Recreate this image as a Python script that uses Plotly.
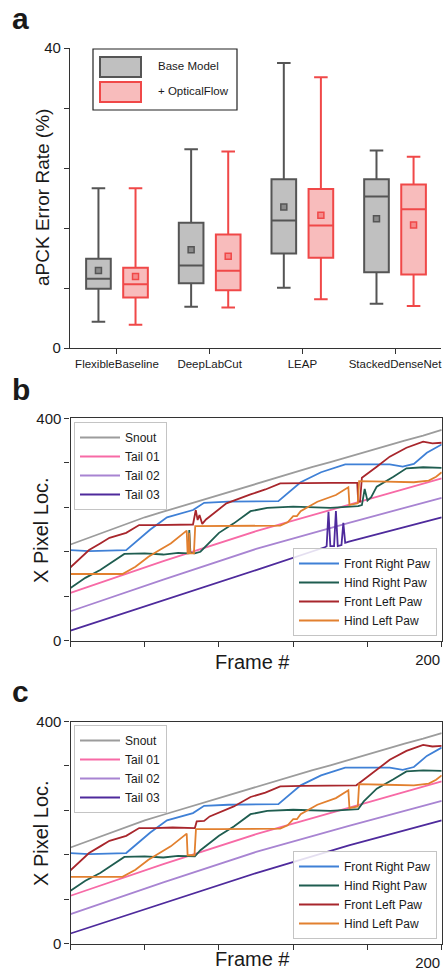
import plotly.graph_objects as go

FONT = "Liberation Sans, Arial, Helvetica, sans-serif"
TXT = "#1a1a1a"
AX = "#333333"
W, H = 443, 973

# ---------------- Panel a data ----------------
categories = ["FlexibleBaseline", "DeepLabCut", "LEAP", "StackedDenseNet"]
base_lower = [3.5, 5.5, 8.05, 5.9]
base_q1 = [7.9, 8.65, 12.6, 10.1]
base_median = [9.25, 11.0, 17.0, 20.2]
base_q3 = [11.9, 16.7, 22.5, 22.5]
base_upper = [21.3, 26.5, 38.0, 26.35]
base_mean = [10.35, 13.1, 18.8, 17.25]

of_lower = [3.1, 5.4, 6.5, 5.6]
of_q1 = [6.75, 7.7, 12.05, 9.8]
of_median = [8.5, 10.3, 16.35, 18.5]
of_q3 = [10.7, 15.15, 21.2, 21.8]
of_upper = [21.3, 26.2, 36.1, 25.5]
of_mean = [9.55, 12.25, 17.7, 16.4]

a_ticks = [0, 8, 16, 24, 32, 40]
a_ticktext = ["0", "", "", "", "", "40"]

# ---------------- Panels b / c data ----------------
xy_xticks = [0, 40, 80, 120, 160, 200]
xy_xticktext = ["", "", "", "", "", "200"]
xy_yticks = [0, 80, 160, 240, 320, 400]
xy_yticktext = ["0", "", "", "", "", "400"]

snout_f = [0, 10, 20, 30, 40, 50, 60, 70, 80, 90, 100, 110, 120, 130, 140, 150, 160, 170, 180, 190, 200]
snout_v = [173, 185, 198, 210, 222, 232, 242, 252, 262, 272, 283, 293, 302, 312, 321, 331, 340, 350, 360, 369, 379]

tail01_f = [0, 50, 100, 150, 200]
tail01_v = [86, 143, 197, 245, 292]

tail02_f = [0, 50, 100, 150, 200]
tail02_v = [53, 110, 165, 212, 257]

tail03_b_f = [0, 50, 100, 137, 138, 139, 140, 142, 143, 144, 146, 147, 148, 150, 200]
tail03_b_v = [18, 72, 127, 168, 170, 232, 170, 170, 233, 170, 172, 212, 176, 178, 222]
tail03_c_f = [0, 50, 100, 150, 200]
tail03_c_v = [18, 72, 127, 177, 222]

frp_f = [0, 10, 20, 30, 43, 52, 66, 72, 85, 100, 112, 124, 135, 148, 160, 172, 179, 185, 192, 200]
frp_v = [163, 161, 162, 163, 200, 222, 235, 248, 250, 250, 251, 285, 303, 317, 317, 317, 313, 318, 338, 353]

hrp_b_f = [0, 8, 16, 24, 29, 40, 50, 58, 63.5, 64, 64.6, 67, 70, 80, 88, 97, 106, 120, 140, 155, 157, 158.5, 160, 162, 165, 174, 181, 190, 200]
hrp_b_v = [95, 113, 127, 145, 156, 157, 155, 158, 157, 199, 158, 157, 160, 194, 211, 233, 239, 241, 239, 242, 244, 273, 252, 258, 277, 295, 310, 312, 311]
hrp_c_f = [0, 8, 16, 24, 29, 40, 50, 58, 67, 70, 80, 88, 97, 106, 120, 140, 155, 158, 165, 174, 181, 190, 200]
hrp_c_v = [95, 113, 127, 145, 156, 157, 155, 158, 157, 168, 194, 211, 233, 239, 241, 239, 242, 256, 279, 296, 310, 312, 311]

flp_b_f = [0, 5, 10, 16, 21, 30, 37, 45, 55, 66, 67.5, 68.5, 69.5, 71, 73, 84, 97, 105, 113, 125, 140, 154.5, 155, 156, 157, 165, 172, 181, 190, 195, 200]
flp_b_v = [132, 148, 163, 175, 185, 194, 208, 208, 209, 209, 235, 217, 226, 210, 218, 247, 263, 272, 283, 284, 284, 284, 250, 250, 293, 313, 331, 347, 358, 355, 356]
flp_c_f = [0, 5, 10, 16, 21, 30, 37, 45, 55, 67, 68, 72, 75, 88, 97, 105, 113, 125, 140, 154, 156, 165, 172, 181, 190, 195, 200]
flp_c_v = [132, 148, 163, 175, 185, 194, 208, 208, 209, 208, 220, 221, 229, 247, 264, 272, 283, 284, 284, 285, 290, 313, 331, 347, 358, 355, 356]

hlp_b_f = [0, 28, 35, 42, 48, 54, 62.6, 63.1, 63.6, 64, 64.4, 66.5, 67.2, 80, 97, 113, 117, 120, 122, 124, 133, 143, 149.7, 150.3, 154.8, 155.5, 170, 185, 193, 197, 200]
hlp_b_v = [120, 120, 133, 151, 163, 175, 198, 157, 157, 194, 157, 157, 206, 206, 206, 207, 213, 224, 224, 233, 250, 262, 276, 244, 247, 287, 286, 285, 288, 295, 303]
hlp_c_f = [0, 28, 35, 42, 48, 54, 62.6, 63.1, 66.8, 67.6, 80, 97, 113, 117, 120, 122, 124, 133, 143, 149.7, 150.3, 154.8, 155.5, 170, 185, 193, 197, 200]
hlp_c_v = [120, 120, 133, 151, 163, 175, 198, 159, 159, 206, 206, 206, 207, 213, 224, 224, 233, 250, 262, 276, 244, 247, 287, 286, 285, 288, 295, 303]

# ---------------- Styles ----------------
BASE_LINE, BASE_FILL = "#555555", "#c0c0c0"
OF_LINE, OF_FILL = "#f04848", "#f8bcbc"
C_SNOUT = "#9c9c9c"
C_T1 = "#f76aa6"
C_T2 = "#a884d2"
C_T3 = "#4e2a9c"
C_FRP = "#3f80d6"
C_HRP = "#1f5d50"
C_FLP = "#a8262c"
C_HLP = "#e2802f"

fig = go.Figure()

# ---------------- Panel a ----------------
offset = 0.2
base_x = [i - offset for i in range(len(categories))]
of_x = [i + offset for i in range(len(categories))]

fig.add_trace(go.Box(
    x=base_x, q1=base_q1, median=base_median, q3=base_q3,
    lowerfence=base_lower, upperfence=base_upper,
    width=0.266, whiskerwidth=0.55, fillcolor=BASE_FILL,
    line=dict(color=BASE_LINE, width=2), boxpoints=False,
    name="Base Model", showlegend=False, xaxis="x", yaxis="y", hoverinfo="skip"))
fig.add_trace(go.Box(
    x=of_x, q1=of_q1, median=of_median, q3=of_q3,
    lowerfence=of_lower, upperfence=of_upper,
    width=0.266, whiskerwidth=0.55, fillcolor=OF_FILL,
    line=dict(color=OF_LINE, width=2), boxpoints=False,
    name="+ OpticalFlow", showlegend=False, xaxis="x", yaxis="y", hoverinfo="skip"))
fig.add_trace(go.Scatter(
    x=base_x, y=base_mean, mode="markers", showlegend=False,
    marker=dict(symbol="square", size=6, color="#8a8a8a", line=dict(color=BASE_LINE, width=1.5)),
    xaxis="x", yaxis="y"))
fig.add_trace(go.Scatter(
    x=of_x, y=of_mean, mode="markers", showlegend=False,
    marker=dict(symbol="square", size=6, color="#f58a8a", line=dict(color=OF_LINE, width=1.5)),
    xaxis="x", yaxis="y"))


def add_line(f, v, name, color, xa, ya, legend):
    fig.add_trace(go.Scatter(
        x=f, y=v, mode="lines", name=name,
        line=dict(color=color, width=1.8),
        xaxis=xa, yaxis=ya, legend=legend))


# ---------------- Panel b ----------------
add_line(snout_f, snout_v, "Snout", C_SNOUT, "x2", "y2", "legend")
add_line(tail01_f, tail01_v, "Tail 01", C_T1, "x2", "y2", "legend")
add_line(tail02_f, tail02_v, "Tail 02", C_T2, "x2", "y2", "legend")
add_line(tail03_b_f, tail03_b_v, "Tail 03", C_T3, "x2", "y2", "legend")
add_line(frp_f, frp_v, "Front Right Paw", C_FRP, "x2", "y2", "legend2")
add_line(hrp_b_f, hrp_b_v, "Hind Right Paw", C_HRP, "x2", "y2", "legend2")
add_line(flp_b_f, flp_b_v, "Front Left Paw", C_FLP, "x2", "y2", "legend2")
add_line(hlp_b_f, hlp_b_v, "Hind Left Paw", C_HLP, "x2", "y2", "legend2")

# ---------------- Panel c ----------------
add_line(snout_f, snout_v, "Snout", C_SNOUT, "x3", "y3", "legend3")
add_line(tail01_f, tail01_v, "Tail 01", C_T1, "x3", "y3", "legend3")
add_line(tail02_f, tail02_v, "Tail 02", C_T2, "x3", "y3", "legend3")
add_line(tail03_c_f, tail03_c_v, "Tail 03", C_T3, "x3", "y3", "legend3")
add_line(frp_f, frp_v, "Front Right Paw", C_FRP, "x3", "y3", "legend4")
add_line(hrp_c_f, hrp_c_v, "Hind Right Paw", C_HRP, "x3", "y3", "legend4")
add_line(flp_c_f, flp_c_v, "Front Left Paw", C_FLP, "x3", "y3", "legend4")
add_line(hlp_c_f, hlp_c_v, "Hind Left Paw", C_HLP, "x3", "y3", "legend4")


def px(x):
    return x / W


def py(y):
    return 1 - y / H


axis_common = dict(showgrid=False, zeroline=False, showline=True, linecolor=AX, linewidth=1.3,
                   ticks="outside", ticklen=5, tickwidth=1.3, tickcolor=AX,
                   tickfont=dict(family=FONT, size=15, color=TXT), automargin=False)

xy_x_dom = [px(70.5), px(441.7)]

fig.update_layout(
    width=W, height=H,
    margin=dict(l=0, r=0, t=0, b=0),
    paper_bgcolor="white", plot_bgcolor="white",
    font=dict(family=FONT, color=TXT),
    xaxis=dict(axis_common, domain=[px(70), px(441)], range=[-0.507, 3.496],
               tickvals=list(range(len(categories))), ticktext=categories,
               tickfont=dict(family=FONT, size=11.5, color=TXT), anchor="y"),
    yaxis=dict(axis_common, domain=[py(348), py(48)], range=[0, 40],
               tickvals=a_ticks, ticktext=a_ticktext, anchor="x"),
    xaxis2=dict(axis_common, domain=xy_x_dom, range=[0, 200], tickvals=xy_xticks,
                ticktext=xy_xticktext, ticklabelshift=-14, mirror=True, anchor="y2"),
    yaxis2=dict(axis_common, domain=[py(640.7), py(418.3)], range=[0, 400], tickvals=xy_yticks,
                ticktext=xy_yticktext, mirror=True, anchor="x2"),
    xaxis3=dict(axis_common, domain=xy_x_dom, range=[0, 200], tickvals=xy_xticks,
                ticktext=xy_xticktext, ticklabelshift=-14, mirror=True, anchor="y3"),
    yaxis3=dict(axis_common, domain=[py(943.5), py(721.5)], range=[0, 400], tickvals=xy_yticks,
                ticktext=xy_yticktext, mirror=True, anchor="x3"),
)

leg_common = dict(bgcolor="rgba(255,255,255,0.85)", bordercolor="#c4c4c4", borderwidth=1,
                  font=dict(family=FONT, size=12, color=TXT), itemwidth=40, tracegroupgap=0,
                  traceorder="normal")
fig.update_layout(
    legend=dict(leg_common, x=px(74), y=py(422), xanchor="left", yanchor="top"),
    legend2=dict(leg_common, x=px(437), y=py(636), xanchor="right", yanchor="bottom"),
    legend3=dict(leg_common, x=px(74), y=py(725), xanchor="left", yanchor="top"),
    legend4=dict(leg_common, x=px(437), y=py(939), xanchor="right", yanchor="bottom"),
)

# Manual legend for panel a (large swatches like the original)
shapes = [
    dict(type="rect", xref="paper", yref="paper", x0=px(93), x1=px(237), y0=py(110), y1=py(49),
         line=dict(color="#222222", width=1.2), fillcolor="white", layer="above"),
    dict(type="rect", xref="paper", yref="paper", x0=px(100), x1=px(141), y0=py(77), y1=py(57),
         line=dict(color=BASE_LINE, width=2), fillcolor=BASE_FILL, layer="above"),
    dict(type="rect", xref="paper", yref="paper", x0=px(100), x1=px(141), y0=py(102), y1=py(82),
         line=dict(color=OF_LINE, width=2), fillcolor=OF_FILL, layer="above"),
]
fig.update_layout(shapes=shapes)

annotations = [
    dict(text="Base Model", x=px(156), y=py(66), xanchor="left", yanchor="middle",
         font=dict(size=11.5)),
    dict(text="+ OpticalFlow", x=px(156), y=py(91), xanchor="left", yanchor="middle",
         font=dict(size=11.5)),
    # panel labels
    dict(text="<b>a</b>", x=px(10), y=py(19), xanchor="left", yanchor="middle", font=dict(size=30)),
    dict(text="<b>b</b>", x=px(10), y=py(389), xanchor="left", yanchor="middle", font=dict(size=30)),
    dict(text="<b>c</b>", x=px(10), y=py(691), xanchor="left", yanchor="middle", font=dict(size=30)),
    # axis titles
    dict(text="aPCK Error Rate (%)", x=px(43), y=py(198), textangle=-90, xanchor="center",
         yanchor="middle", font=dict(size=19)),
    dict(text="X Pixel Loc.", x=px(41), y=py(530), textangle=-90, xanchor="center",
         yanchor="middle", font=dict(size=20)),
    dict(text="Frame #", x=px(252), y=py(662), xanchor="center", yanchor="middle", font=dict(size=20)),
    dict(text="X Pixel Loc.", x=px(41), y=py(833), textangle=-90, xanchor="center",
         yanchor="middle", font=dict(size=20)),
    dict(text="Frame #", x=px(252), y=py(972), xanchor="center", yanchor="bottom", font=dict(size=20)),
]
for a in annotations:
    a.update(xref="paper", yref="paper", showarrow=False)
    a["font"] = dict(family=FONT, color=TXT, **a["font"])
fig.update_layout(annotations=annotations)

fig.write_html(
    "out.html",
    config={"displayModeBar": False},
    post_script="document.body.style.margin='0';document.body.style.padding='0';"
                "document.documentElement.style.overflow='hidden';document.body.style.overflow='hidden';",
)
